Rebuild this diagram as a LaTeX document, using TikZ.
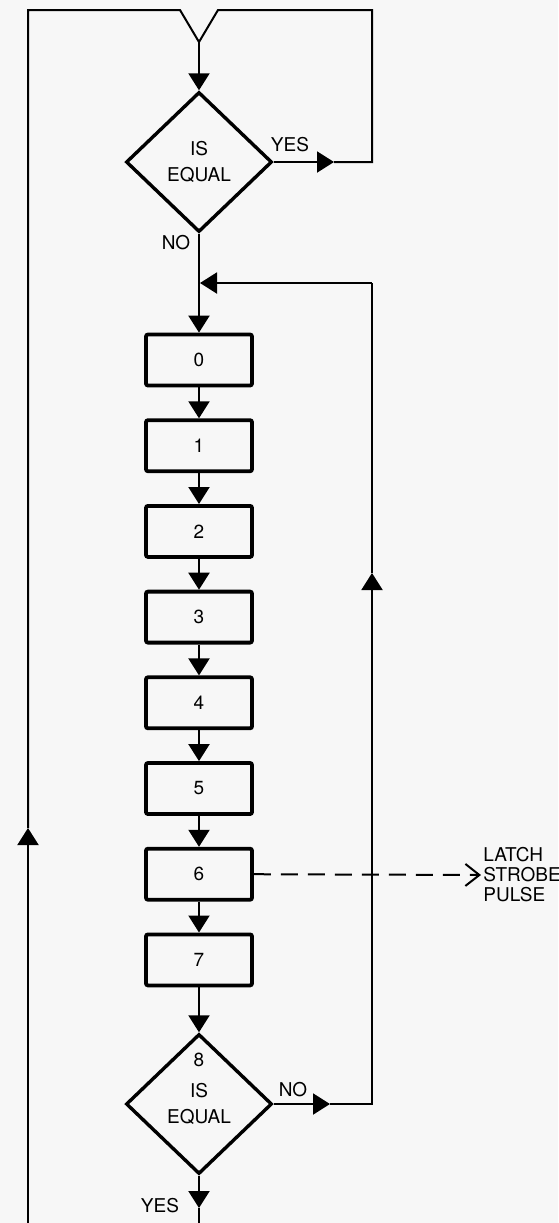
\documentclass[tikz,border=0pt]{standalone}
\usepackage{fontspec}
\setmainfont{TeX Gyre Heros}
\usetikzlibrary{shapes.geometric,arrows.meta,positioning}
\definecolor{paper}{RGB}{247,247,247}

\begin{document}
\begin{tikzpicture}[x=0.5pt,y=-0.5pt,
        font=\fontsize{9.5}{11}\selectfont,
        stepbox/.style={draw,line width=1.9pt,minimum width=53pt,minimum height=25.5pt,inner sep=0pt,rounded corners=1pt},
        testbox/.style={draw,diamond,line width=1.7pt,minimum width=73pt,minimum height=70pt,inner sep=0pt,align=center},
        flow/.style={line width=1pt,-{Triangle[width=10.5pt,length=8.5pt]}},
        line/.style={line width=1pt},
        tag/.style={inner sep=1pt}]
        \fill[paper] (0,0) rectangle (558,1223);
        \useasboundingbox (0,0) rectangle (558,1223);

        % corners and turning points
        \coordinate (tl) at (28,10);
        \coordinate (vl) at (180,10);
        \coordinate (vv) at (199,42);
        \coordinate (vr) at (218,10);
        \coordinate (tr) at (372,10);
        \coordinate (yes) at (334,162);
        \coordinate (ret) at (372,283);
        \coordinate (join) at (200,283);
        \coordinate (rup) at (372,573);
        \coordinate (no) at (330,1104);
        \coordinate (ytip) at (199,1208);
        \coordinate (yb) at (199,1223);
        \coordinate (up) at (28,828);
        \coordinate (lb) at (28,1223);

        % tests
        \node[testbox] (eq1) at (199,162) {IS\\[2pt]EQUAL};
        \node[testbox] (eq2) at (199,1104) {\\[-4pt]IS\\[2pt]EQUAL};
        \node[tag] (eight) at (199,1060) {8};

        % steps
        \foreach \n in {0,...,7}
            \node[stepbox] (b\n) at (199,{360+85.7*\n}) {\n};
        \foreach \a/\b in {0/1,1/2,2/3,3/4,4/5,5/6,6/7}
            \draw[flow] (b\a) -- (b\b);

        % strobe output
        \node[tag,anchor=west,align=left,font=\fontsize{9.5}{10}\selectfont] (latch) at (481,875) {LATCH\\STROBE\\PULSE};
        \draw[line,dash pattern=on 8.5pt off 5pt,-{Straight Barb[length=7pt,width=11pt]}] (b6.east) -- (latch.west);

        % outer loop
        \draw[flow] (lb) -- (up);
        \draw[line] (up) -- (tl) -- (vl) -- (vv) -- (vr) -- (tr) |- (yes);
        \draw[flow] (vv) -- (eq1.north);
        \draw[flow] (eq1.east) -- (yes);
        \draw[flow] (eq1.south) -- (b0.north);

        % inner loop
        \draw[flow] (b7) -- (eq2.north);
        \draw[flow] (eq2.east) -- (no);
        \draw[flow] (no) -| (rup);
        \draw[line] (rup) -- (ret);
        \draw[flow] (ret) -- (join);
        \draw[flow] (eq2.south) -- (ytip);
        \draw[line] (ytip) -- (yb);

        % labels
        \node[tag] (yes1) at (290,145) {YES};
        \node[tag] (no1) at (176,243) {NO};
        \node[tag] (no2) at (293,1090) {NO};
        \node[tag] (yes2) at (160,1206) {YES};
\end{tikzpicture}
\end{document}
